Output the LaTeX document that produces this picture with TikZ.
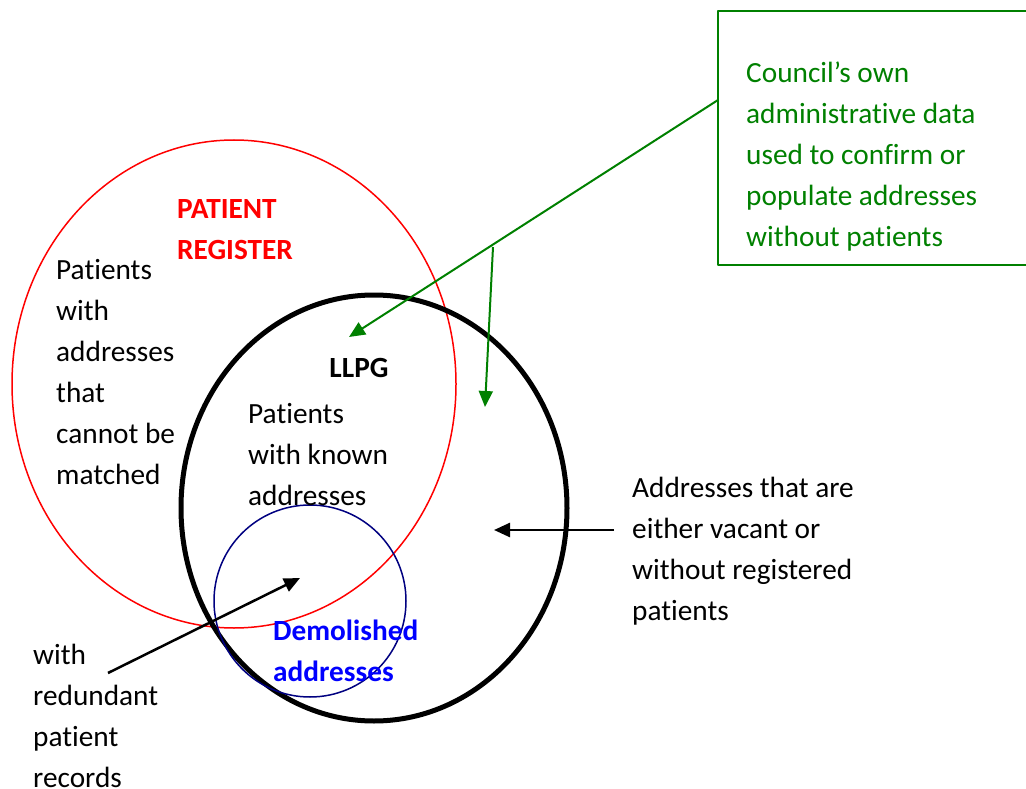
\documentclass[tikz,border=0pt]{standalone}
\usepackage{fontspec}
\setmainfont[Ligatures=NoCommon]{Carlito}
\usetikzlibrary{arrows.meta}
\definecolor{cgreen}{RGB}{0,128,0}
\definecolor{cnavy}{RGB}{0,0,128}
\tikzset{
	txt/.style={inner sep=0, anchor=north west, align=left, font=\fontsize{29.3}{41}\selectfont},
	tip/.style={-{Triangle[length=16pt, width=14pt]}}
}
\begin{document}
\begin{tikzpicture}[x=1pt, y=-1pt, line join=round]
		
		\useasboundingbox (0,0) rectangle (1026,789);
		
		\coordinate[] (R) at (234,384);
		\coordinate[] (L) at (374,508);
		\coordinate[] (D) at (310,601);
		
		\draw[red, line width = 1.5] (R) ellipse (222 and 244);
		\draw[line width = 5] (L) ellipse (193 and 213);
		\draw[cnavy, line width = 1.5] (D) circle (96);
		
		% texts
		\node[txt, red, font=\fontsize{29.3}{41}\selectfont\bfseries] (register) at (177,199) {PATIENT\\REGISTER};
		\node[txt] (unmatched) at (56,259) {Patients\\with\\addresses\\that\\cannot be\\matched};
		\node[inner sep=0, font=\fontsize{29.3}{41}\selectfont\bfseries] (llpg) at (359,368) {LLPG};
		\node[txt] (known) at (248,403) {Patients\\with known\\addresses};
		\node[txt, blue, font=\fontsize{29.3}{41}\selectfont\bfseries] (demolished) at (273,620) {Demolished\\addresses};
		\node[txt] (redundant) at (33,644) {with\\redundant\\patient\\records};
		\node[txt] (vacant) at (632,477) {Addresses that are\\either vacant or\\without registered\\patients};
		
		\node[draw=cgreen, line width = 1.5, minimum width=312, minimum height=254, inner sep=0] (councilbox) at (874,138) {};
		\node[txt, cgreen] (council) at (746,62) {Council’s own\\administrative data\\used to confirm or\\populate addresses\\without patients};
		
		% connectors
		\coordinate[] (C1) at (718,100);
		\coordinate[] (C2) at (493,247);
		\coordinate[] (T1) at (349,337);
		\coordinate[] (T2) at (485,407);
		\draw[tip, cgreen, line width = 2] (C1) -- (T1);
		\draw[tip, cgreen, line width = 2] (C2) -- (T2);
		
		\coordinate[] (V1) at (614,530);
		\coordinate[] (V2) at (494,530);
		\coordinate[] (W1) at (108,673);
		\coordinate[] (W2) at (300,578);
		\draw[tip, line width = 2.5] (V1) -- (V2);
		\draw[tip, line width = 2.5] (W1) -- (W2);
		
\end{tikzpicture}
\end{document}
